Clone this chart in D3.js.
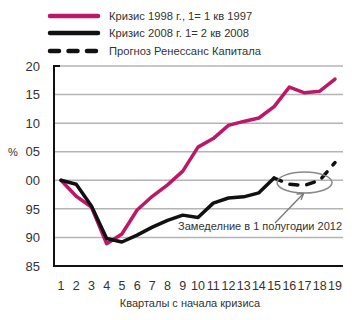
<!DOCTYPE html>
<html><head><meta charset="utf-8">
<script src="https://cdn.jsdelivr.net/npm/d3@7"></script>
<style>
body{margin:0;background:#fff;}
text{font-family:"Liberation Sans",Arial,sans-serif;fill:#333;}
</style></head>
<body><svg id="c" width="357" height="320"></svg>
<script>
const quarters = d3.range(1, 20);
const crisis1998 = [100, 97.2, 95.3, 88.9, 90.6, 94.8, 97.2, 99.2, 101.6, 105.8, 107.3, 109.6, 110.3, 110.9, 112.9, 116.3, 115.3, 115.6, 117.7];
const crisis2008 = [100, 99.3, 95.5, 89.8, 89.2, 90.4, 91.8, 93.0, 93.9, 93.5, 96.0, 96.9, 97.1, 97.8, 100.4];
const forecastQ = [15, 16, 17, 18, 19];
const forecast = [100.4, 99.3, 99.1, 100.0, 103.1];
const yTicks = [85, 90, 95, 100, 105, 110, 115, 120];
const legendLabels = ["Кризис 1998 г., 1= 1 кв 1997", "Кризис 2008 г. 1= 2 кв 2008", "Прогноз Ренессанс Капитала"];
const annotation = "Замеделние в 1 полугодии 2012";
const xTitle = "Кварталы с начала кризиса";

(function () {
const pink = "#bd1768", black = "#111";
const svg = d3.select("#c");
const pl = 54, pr = 343, pt = 66, pb = 266;
const x = d3.scalePoint().domain(quarters).range([61, 335]);
const y = d3.scaleLinear().domain([85, 120]).range([pb, pt]);

// gridlines
svg.append("g").selectAll("line").data(yTicks.filter(t => t > 85)).join("line")
  .attr("x1", pl).attr("x2", pr).attr("y1", d => y(d)).attr("y2", d => y(d))
  .attr("stroke", "#b4b4b4").attr("stroke-width", 1.5);

// axes lines
svg.append("line").attr("x1", pl).attr("x2", pl).attr("y1", y(120)).attr("y2", pb)
  .attr("stroke", "#111").attr("stroke-width", 2);
svg.append("line").attr("x1", pl - 1).attr("x2", pl + 6).attr("y1", y(120)).attr("y2", y(120))
  .attr("stroke", "#111").attr("stroke-width", 2);
svg.append("line").attr("x1", pl - 1).attr("x2", pr).attr("y1", pb).attr("y2", pb)
  .attr("stroke", "#111").attr("stroke-width", 2);

// y labels
svg.append("g").selectAll("text").data(yTicks).join("text")
  .attr("x", 40).attr("y", d => y(d)).attr("dy", "0.36em").attr("text-anchor", "end")
  .attr("font-size", 13).text(d => String(d % 100).padStart(2, "0"));
svg.append("text").attr("x", 13).attr("y", y(105)).attr("dy", "0.36em").attr("text-anchor", "middle")
  .attr("font-size", 11).text("%");

// x labels
svg.append("g").selectAll("text").data(quarters).join("text")
  .attr("x", d => x(d)).attr("y", 290).attr("text-anchor", "middle")
  .attr("font-size", 12.5).text(d => d);
svg.append("text").attr("x", 190).attr("y", 307).attr("text-anchor", "middle")
  .attr("font-size", 11).text(xTitle);

const line = d3.line().x(d => x(d[0])).y(d => y(d[1]));
svg.append("path").datum(quarters.map((q, i) => [q, crisis1998[i]]))
  .attr("d", line).attr("fill", "none").attr("stroke", pink).attr("stroke-width", 3.5)
  .attr("stroke-linejoin", "round").attr("stroke-linecap", "round");
svg.append("path").datum(crisis2008.map((v, i) => [quarters[i], v]))
  .attr("d", line).attr("fill", "none").attr("stroke", black).attr("stroke-width", 3.5)
  .attr("stroke-linejoin", "round").attr("stroke-linecap", "round");
svg.append("path").datum(forecastQ.map((q, i) => [q, forecast[i]]))
  .attr("d", line).attr("fill", "none").attr("stroke", black).attr("stroke-width", 3.5)
  .attr("stroke-dasharray", "8,9").attr("stroke-linecap", "round");

// ellipse + arrow annotation
svg.append("ellipse").attr("cx", x(17)).attr("cy", y(99.6)).attr("rx", 27.5).attr("ry", 10.5)
  .attr("fill", "none").attr("stroke", "#888").attr("stroke-width", 1.5);
const tip = [x(17) - 1, y(99.6) + 11];
svg.append("line").attr("x1", 275).attr("y1", 223).attr("x2", tip[0]).attr("y2", tip[1])
  .attr("stroke", "#777").attr("stroke-width", 1.3);
svg.append("path").attr("d", `M${tip[0]-7},${tip[1]+0.5} L${tip[0]},${tip[1]} L${tip[0]-2.5},${tip[1]+6.5}`)
  .attr("fill", "none").attr("stroke", "#777").attr("stroke-width", 1.3);
svg.append("text").attr("x", 342).attr("y", 230).attr("text-anchor", "end")
  .attr("font-size", 11).text(annotation);

// legend
const lg = svg.append("g");
const ly = [16, 33, 51];
legendLabels.forEach((t, i) => {
  const l = lg.append("line").attr("x1", 50).attr("x2", 98).attr("y1", ly[i]).attr("y2", ly[i])
    .attr("stroke", i === 0 ? pink : black).attr("stroke-width", 4.5).attr("stroke-linecap", "round");
  if (i === 2) l.attr("stroke-dasharray", "9,9.5");
  lg.append("text").attr("x", 109).attr("y", ly[i]).attr("dy", "0.36em")
    .attr("font-size", 11.2).text(t);
});
})();
</script></body></html>
